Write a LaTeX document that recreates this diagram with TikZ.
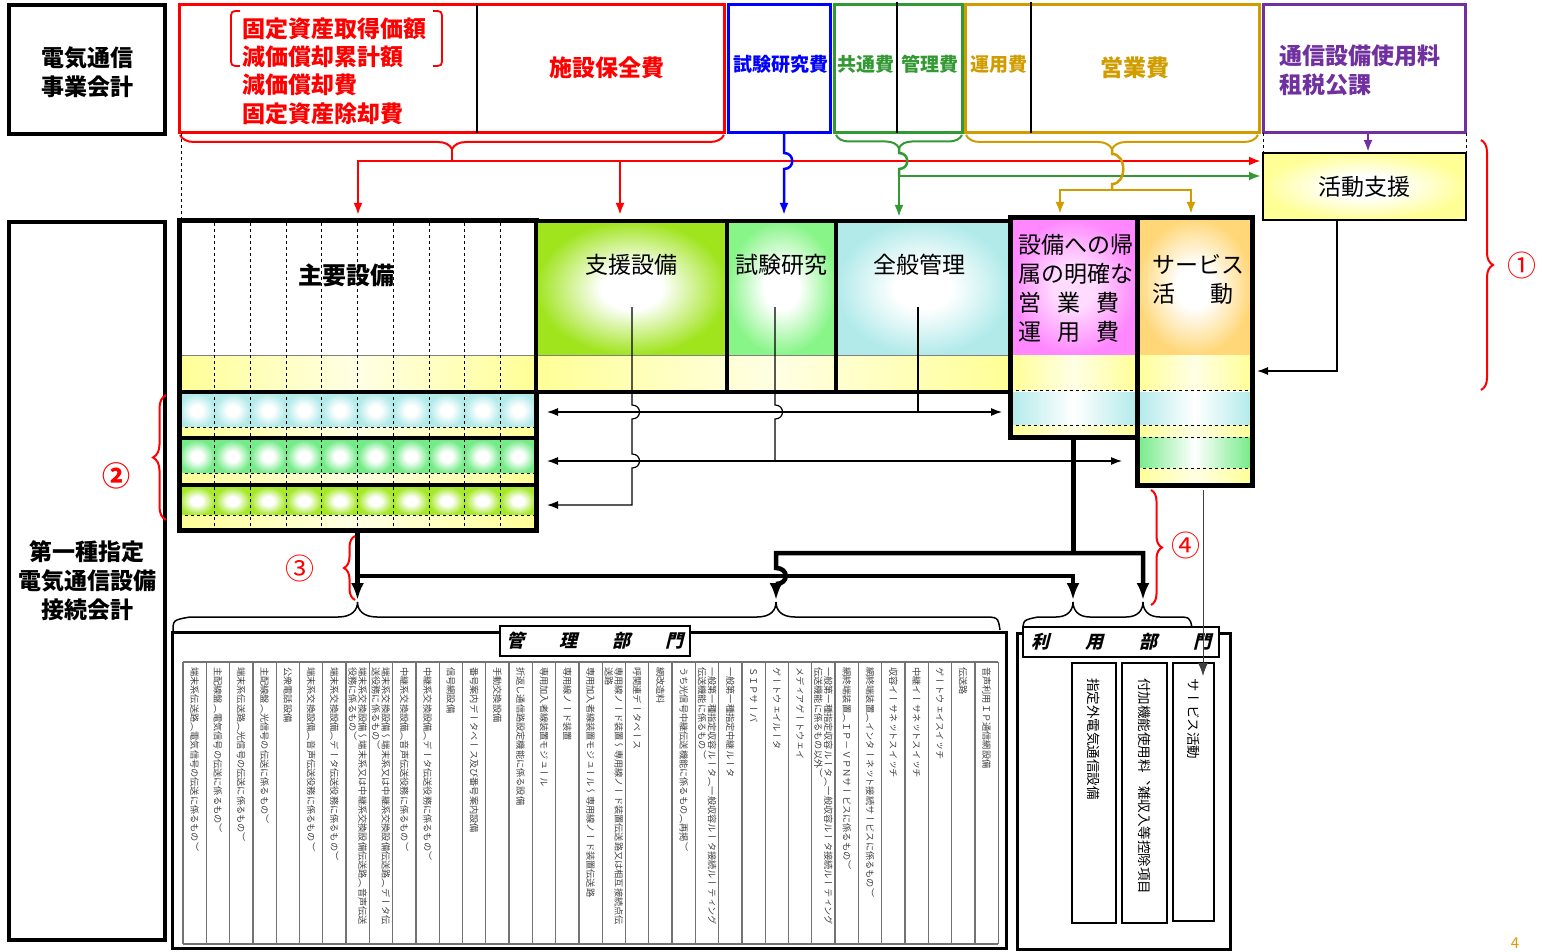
\documentclass[tikz,border=0pt]{standalone}
\usepackage{fontspec}
\setmainfont{Noto Sans CJK JP}
\newfontfamily\tatefont[Vertical=RotatedGlyphs]{Noto Sans CJK JP}
\newfontfamily\slantfont[FakeSlant=0.25]{Noto Sans CJK JP}
\usetikzlibrary{arrows.meta,decorations.pathreplacing}

\definecolor{redc}{RGB}{255,0,0}
\definecolor{bluec}{RGB}{0,0,255}
\definecolor{greenc}{RGB}{51,153,51}
\definecolor{goldc}{RGB}{208,156,0}
\definecolor{purplec}{RGB}{112,48,160}
\definecolor{limec}{RGB}{160,228,30}
\definecolor{mintc}{RGB}{135,245,135}
\definecolor{aquac}{RGB}{178,234,234}
\definecolor{pinkc}{RGB}{255,135,255}
\definecolor{orangec}{RGB}{255,215,120}
\definecolor{bandc}{RGB}{255,255,150}
\definecolor{rowgreen}{RGB}{115,235,135}
\definecolor{rowlime}{RGB}{165,232,40}
\definecolor{pagec}{RGB}{230,150,0}
\colorlet{glowcol}{white}
\colorlet{glowin}{white}
\pgfdeclareradialshading[glowin,glowcol]{glow}{\pgfpoint{0bp}{0bp}}{%
  color(0bp)=(glowin); color(8bp)=(glowin); color(25bp)=(glowcol); color(50bp)=(glowcol)}

\tikzset{
  box/.style={rectangle, inner sep=0pt, outer sep=0pt, anchor=north west},
  head/.style={inner sep=0pt, font=\fontsize{23}{29}\selectfont\bfseries},
  subhead/.style={inner sep=0pt, font=\fontsize{19}{23}\selectfont\bfseries},
  lbl/.style={inner sep=0pt, font=\fontsize{23}{29}\selectfont},
  tate/.style={rotate=-90, anchor=west, inner sep=0pt, align=left, text=black!75,
    font=\tatefont\fontsize{9.2}{10}\selectfont},
  deptlbl/.style={inner sep=0pt, font=\slantfont\bfseries\fontsize{18}{20}\selectfont},
  band/.style={left color=bandc, right color=bandc, middle color=bandc!25},
  glowfill/.style={/utils/exec={\colorlet{glowcol}{#1}\colorlet{glowin}{white}}, shading=glow},
  softglow/.style={/utils/exec={\colorlet{glowcol}{#1}\colorlet{glowin}{#1!30}}, shading=glow},
  wire/.style={line width=1.2},
  conn/.style={wire, -{Latex[length=11pt, width=8pt]}},
  both/.style={wire, {Latex[length=11pt, width=8pt]}-{Latex[length=11pt, width=8pt]}},
  trunk/.style={line width=4.5, -{Latex[length=17pt, width=13pt]}},
  flow/.style={line width=2.5, -{Latex[length=12pt, width=9pt]}},
  bracket/.style={decorate, decoration={brace, amplitude=#1}},
  flipbracket/.style={decorate, decoration={brace, mirror, amplitude=#1}},
  tag/.style={inner sep=0pt, text=redc, font=\fontsize{29}{30}\selectfont},
}

\begin{document}
\begin{tikzpicture}[x=1pt, y=-1pt]

  \useasboundingbox (0,0) rectangle (1542,952);
  \fill[white] (0,0) rectangle (1542,952);

  % Cost headers of the business account.
  \node[box, draw, line width=4, minimum width=156, minimum height=129] (jigyo) at (9,5) {};
  \node[head, align=center] (jigyotxt) at (87,72) {電気通信\\事業会計};

  \node[box, draw=redc, line width=3, minimum width=545, minimum height=128] (shisan) at (179,5) {};
  \draw[line width=1.5] (477,5) -- (477,133);
  \foreach \t [count=\k] in {固定資産取得価額,減価償却累計額,減価償却費,固定資産除却費}
    \node[head, text=redc, anchor=west] (cost\k) at (242,{28.4*\k}) {\t};
  \draw[redc, line width=1.8] (240,11) .. controls (231,11) .. (231,20) -- (231,57)
    .. controls (231,66) .. (240,66);
  \draw[redc, line width=1.8] (433,11) .. controls (442,11) .. (442,20) -- (442,57)
    .. controls (442,66) .. (433,66);
  \node[head, text=redc] (hozen) at (607,68) {施設保全費};

  \node[box, draw=bluec, line width=3, minimum width=102, minimum height=128] (kenkyuhi) at (728,5) {};
  \node[subhead, text=bluec] (kenkyutxt) at (781,64) {試験研究費};

  \node[box, draw=greenc, line width=3, minimum width=128, minimum height=128] (kyotsu) at (834,5) {};
  \draw[line width=1.5] (897,2) -- (897,133);
  \node[subhead, text=greenc] (kyotsutxt) at (866,64) {共通費};
  \node[subhead, text=greenc] (kanrihi) at (930,64) {管理費};

  \node[box, draw=goldc, line width=3, minimum width=294, minimum height=128] (eigyo) at (965,5) {};
  \draw[line width=1.5] (1031,2) -- (1031,133);
  \node[subhead, text=goldc] (unyotxt) at (999,64) {運用費};
  \node[head, text=goldc] (eigyotxt) at (1135,68) {営業費};

  \node[box, draw=purplec, line width=3, minimum width=202, minimum height=128] (shiyoryo) at (1263,5) {};
  \node[head, text=purplec, anchor=west] (shiyo1) at (1279,56) {通信設備使用料};
  \node[head, text=purplec, anchor=west] (shiyo2) at (1279,85) {租税公課};

  % Braces and allocation arrows.
  \draw[redc, line width=2, flipbracket=14pt] (180,135) -- (724,135);
  \draw[greenc, line width=2, flipbracket=13pt] (836,135) -- (962,135);
  \draw[goldc, line width=2, flipbracket=14pt] (966,135) -- (1258,135);
  \coordinate (redtip) at (452,149);
  \coordinate (greentip) at (899,148);
  \coordinate (goldtip) at (1112,149);

  \draw[redc, flow] (redtip) -- (452,161) -- (1261,161);
  \draw[redc, flow] (452,161) -| (358,215);
  \draw[redc, flow] (620,161) -- (620,215);

  \draw[bluec, flow] (784,133) -- (784,153) .. controls (795,153) and (795,169) .. (784,169) -- (784,215);

  \draw[greenc, line width=2.5] (greentip) -- (899,153)
    .. controls (910,153) and (910,169) .. (899,169) -- (899,176);
  \draw[greenc, flow] (899,176) -- (1261,176);
  \draw[greenc, flow] (899,176) -- (899,217);

  \draw[goldc, line width=2.5] (goldtip) -- (1112,154)
    .. controls (1127,154) and (1127,184) .. (1112,184) -- (1112,190);
  \draw[goldc, flow] (1112,190) -| (1060,214);
  \draw[goldc, flow] (1112,190) -| (1191,214);

  \draw[purplec, flow] (1368,133) -- (1368,152);

  \draw[dashed, line width=1] (181,133) -- (181,221);
  \draw[dashed, line width=1] (1263,133) -- (1263,153) (1466,133) -- (1466,153);

  \node[box, lbl, draw, line width=2.5, minimum width=203, minimum height=67, shade, glowfill=bandc]
    (katsudo) at (1263,153) {活動支援};

  % Interconnection account.
  \node[box, draw, line width=4, minimum width=156, minimum height=718] (setsuzoku) at (9,222) {};
  \node[head, align=center] (setsuzokutxt) at (87,581) {第一種指定\\電気通信設備\\接続会計};

  % Main equipment block.
  \fill[white] (179,221) rectangle (536,355);
  \shade[band] (179,355) rectangle (536,392);
  \draw[gray, line width=0.8] (179,355) -- (536,355);
  \foreach \c/\ya/\yb/\yc in {aquac/394/427/437, rowgreen/440/473/483, rowlime/487/515/527} {
    \foreach \i in {0,...,9}
      \shade[glowfill=\c] ({179+35.7*\i},\ya) rectangle ++(35.7,{\yb-\ya});
    \shade[band] (179,\yb) rectangle (536,\yc);
    \draw[dashed, line width=0.8] (179,\yb) -- (536,\yb);
  }
  \draw[line width=3.5] (179,392) -- (536,392) (179,438) -- (536,438) (179,485) -- (536,485);
  \foreach \k in {1,...,9}
    \draw[dashed, line width=0.8] ({179+35.7*\k},223) -- ({179+35.7*\k},528);
  \node[box, draw, line width=5, minimum width=357, minimum height=309] (shuyo) at (179,221) {};
  \node[inner sep=0pt, font=\fontsize{24}{28}\selectfont\bfseries] (shuyotxt) at (346,275) {主要設備};

  % Support blocks.
  \shade[glowfill=limec] (536,221) rectangle (727,355);
  \shade[glowfill=mintc] (727,221) rectangle (836,355);
  \shade[glowfill=aquac] (836,221) rectangle (1010,355);
  \shade[band] (536,355) rectangle (1010,392);
  \draw[gray, line width=0.8] (536,355) -- (1010,355);
  \node[box, draw, line width=4, minimum width=191, minimum height=171] (shien) at (536,221) {};
  \node[box, draw, line width=4, minimum width=109, minimum height=171] (shiken) at (727,221) {};
  \node[box, draw, line width=4, minimum width=174, minimum height=171] (zenpan) at (836,221) {};
  \node[lbl] (shientxt) at (631,265) {支援設備};
  \node[lbl] (shikentxt) at (781,265) {試験研究};
  \node[lbl] (zenpantxt) at (919,265) {全般管理};

  % Sales and service blocks.
  \shade[softglow=pinkc] (1010,218) rectangle (1137,355);
  \shade[band] (1010,355) rectangle (1137,390);
  \shade[left color=aquac, right color=aquac, middle color=white] (1010,392) rectangle (1137,425);
  \shade[band] (1010,425) rectangle (1137,437);
  \draw[dashed, line width=0.8] (1010,390) -- (1137,390) (1010,425) -- (1137,425);
  \node[box, draw, line width=5, minimum width=127, minimum height=219] (kizoku) at (1010,218) {};
  \node[lbl, anchor=west] (kizoku1) at (1018,245) {設備への帰};
  \node[lbl, anchor=west] (kizoku2) at (1018,274) {属の明確な};
  \node[lbl, anchor=west] (kizoku3) at (1018,303) {営\hspace{16pt}業\hspace{16pt}費};
  \node[lbl, anchor=west] (kizoku4) at (1018,332) {運\hspace{16pt}用\hspace{16pt}費};

  \shade[glowfill=orangec] (1137,218) rectangle (1252,355);
  \shade[band] (1137,355) rectangle (1252,390);
  \shade[left color=aquac, right color=aquac, middle color=white] (1137,392) rectangle (1252,425);
  \shade[band] (1137,425) rectangle (1252,437);
  \shade[left color=rowgreen, right color=rowgreen, middle color=white] (1137,437) rectangle (1252,468);
  \shade[band] (1137,468) rectangle (1252,482);
  \draw[dashed, line width=0.8] (1137,390) -- (1252,390) (1137,425) -- (1252,425)
    (1137,437) -- (1252,437) (1137,468) -- (1252,468);
  \node[box, draw, line width=5, minimum width=115, minimum height=267] (service) at (1137,218) {};
  \node[lbl, anchor=west] (service1) at (1152,265) {サービス};
  \node[lbl, anchor=west] (service2) at (1152,294) {活\hspace{35pt}動};

  % Distribution lines.
  \draw[conn] (632,307) -- (632,405) .. controls (642,405) and (642,419) .. (632,419)
    -- (632,454) .. controls (642,454) and (642,468) .. (632,468) -- (632,505) -- (547,505);
  \draw[wire] (775,307) -- (775,405) .. controls (785,405) and (785,419) .. (775,419) -- (775,461);
  \draw[wire] (918,307) -- (918,412);
  \draw[both] (547,412) -- (1002,412);
  \draw[both] (547,461) -- (1122,461);
  \draw[conn] (1337,220) |- (1257,371);

  % Thick flows to the departments.
  \draw[trunk] (shuyo.south) -- (357.5,600);
  \draw[trunk] (357.5,576) -- (1073,576) -- (1073,600);
  \draw[line width=4.5] (kizoku.south) -- (1073.5,553);
  \draw[trunk] (776,584) .. controls (789,584) and (789,568) .. (776,568) -- (776,553)
    -- (1143,553) -- (1143,600);
  \draw[trunk] (776,584) -- (776,600);

  % Red markers.
  \draw[redc, line width=2, bracket=12pt] (1481,140) -- (1481,390);
  \node[tag] (tag1) at (1522,265) {①};
  \draw[redc, line width=2, bracket=13pt] (166,520) -- (166,395);
  \node[tag, font=\fontsize{28}{30}\selectfont\bfseries] (tag2) at (116,476) {②};
  \draw[redc, line width=2, bracket=11pt] (355,600) -- (355,536);
  \node[tag] (tag3) at (300,568) {③};
  \draw[redc, line width=2, bracket=11pt] (1151,490) -- (1151,605);
  \node[tag] (tag4) at (1186,545) {④};

  % Department braces.
  \draw[line width=1.5] (173,632) .. controls (173,620) .. (190,617) -- (338,617)
    .. controls (352,617) and (357.5,610) .. (357.5,602) .. controls (357.5,610) and (363,617) .. (377,617)
    -- (757,617) .. controls (771,617) and (776,610) .. (776,602)
    .. controls (776,610) and (781,617) .. (795,617) -- (982,617) .. controls (998,617) .. (1000,630);
  \draw[line width=1.5] (1023,632) .. controls (1023,620) .. (1038,617) -- (1056,617)
    .. controls (1068,617) and (1073,610) .. (1073,602) .. controls (1073,610) and (1078,617) .. (1090,617)
    -- (1126,617) .. controls (1138,617) and (1143,610) .. (1143,602)
    .. controls (1143,610) and (1148,617) .. (1160,617) -- (1175,617) .. controls (1190,617) .. (1192,628);

  % Management department table.
  \node[box, draw, line width=3, minimum width=834, minimum height=316] (kanri) at (172,632) {};
  \foreach \i in {0,...,35}
    \draw[black!55, line width=1.3] ({183+23.29*\i},662) -- ({183+23.29*\i},944);
  \draw[black!55, line width=1.3] (183,662) -- (998,662) (183,944) -- (998,944);
  \foreach \txt [count=\i] in {
      {端末系伝送路（電気信号の伝送に係るもの）},
      {主配線盤（電気信号の伝送に係るもの）},
      {端末系伝送路（光信号の伝送に係るもの）},
      {主配線盤（光信号の伝送に係るもの）},
      {公衆電話設備},
      {端末系交換設備（音声伝送役務に係るもの）},
      {端末系交換設備（データ伝送役務に係るもの）},
      {端末系交換設備～端末系又は中継系交換設備伝送路（音声伝送\\役務に係るもの）},
      {端末系交換設備～端末系又は中継系交換設備伝送路（データ伝\\送役務に係るもの）},
      {中継系交換設備（音声伝送役務に係るもの）},
      {中継系交換設備（データ伝送役務に係るもの）},
      {信号網設備},
      {番号案内データベース及び番号案内設備},
      {手動交換設備},
      {折返し通信路設定機能に係る設備},
      {専用加入者線装置モジュール},
      {専用線ノード装置},
      {専用加入者線装置モジュール～専用線ノード装置伝送路},
      {専用線ノード装置～専用線ノード装置伝送路又は相互接続点伝\\送路},
      {呼関連データベース},
      {網改造料},
      {うち光信号中継伝送機能に係るもの（再掲）},
      {一般第一種指定収容ルータ（一般収容ルータ接続ルーティング\\伝送機能に係るもの）},
      {一般第一種指定中継ルータ},
      {ＳＩＰサーバ},
      {ゲートウェイルータ},
      {メディアゲートウェイ},
      {一般第一種指定収容ルータ（一般収容ルータ接続ルーティング\\伝送機能に係るもの以外）},
      {網終端装置（ＩＰ－ＶＰＮサービスに係るもの）},
      {網終端装置（インターネット接続サービスに係るもの）},
      {収容イーサネットスイッチ},
      {中継イーサネットスイッチ},
      {ゲートウェイスイッチ},
      {伝送路},
      {音声利用ＩＰ通信網設備}}
    \node[tate] (col\i) at ({183+23.29*(\i-0.5)},667) {\txt};
  \node[box, draw, fill=white, line width=1.5, minimum width=190, minimum height=30] (kanrilab) at (500,626) {};
  \node[deptlbl] (kanritxt) at (kanrilab.center) {管\hspace{35pt}理\hspace{35pt}部\hspace{35pt}門};

  % User department.
  \node[box, draw, line width=3, minimum width=213, minimum height=316] (riyo) at (1017,633) {};
  \node[box, draw, fill=white, line width=1.5, minimum width=196, minimum height=30] (riyolab) at (1023,627) {};
  \node[deptlbl] (riyotxt) at (riyolab.center) {利\hspace{36pt}用\hspace{36pt}部\hspace{36pt}門};
  \node[box, draw, line width=1.5, minimum width=44, minimum height=260] (shiteigai) at (1072,663) {};
  \node[box, draw, line width=1.5, minimum width=45, minimum height=260] (fuka) at (1122,663) {};
  \node[box, draw, line width=1.5, minimum width=41, minimum height=258] (katsudobox) at (1173,663) {};
  \node[tate, text=black, font=\tatefont\fontsize{13.5}{15}\selectfont] (shiteigaitxt) at (1094,678) {指定外電気通信設備};
  \node[tate, text=black, font=\tatefont\fontsize{13.5}{15}\selectfont] (fukatxt) at (1144.5,678) {付加機能使用料、雑収入等控除項目};
  \node[tate, text=black, font=\tatefont\fontsize{13.5}{15}\selectfont] (katsudotxt) at (1193.5,678) {サービス活動};
  \draw[black!75, line width=1, -{Latex[length=13pt, width=10pt]}] (1203,490) -- (1203,676);

  \node[inner sep=0pt, text=pagec, font=\fontsize{15}{16}\selectfont] (pageno) at (1515,943) {4};

\end{tikzpicture}
\end{document}
